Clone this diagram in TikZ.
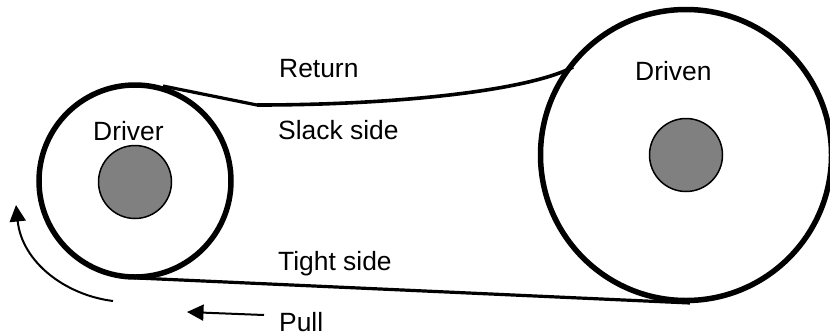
\documentclass[tikz,border=0pt]{standalone}
\usepackage{fontspec}
\setmainfont{Liberation Sans}
\usetikzlibrary{arrows.meta}
\begin{document}
\begin{tikzpicture}[x=1pt,y=-1pt,
  pulley/.style={circle,draw=black,line width=5.5pt,minimum size=#1,inner sep=0pt,outer sep=0pt},
  hub/.style={circle,draw=black,fill=hubgray,line width=1.5pt,minimum size=73pt,inner sep=0pt},
  belt/.style={draw=black,line width=3.2pt},
  lbl/.style={font=\fontsize{26.4pt}{28pt}\selectfont,anchor=base west,inner sep=0pt,text=black},
  motion/.style={draw=black,line width=2pt,-{Triangle[length=16.5pt,width=16pt]}}
]
\definecolor{hubgray}{HTML}{808080}
\useasboundingbox (0,0) rectangle (830,333);
\begin{scope}
\clip (0,0) rectangle (830,333);
\node[pulley=192pt] (driver) at (135,181) {};
\node[pulley=291pt] (driven) at (686,155) {};
\end{scope}
\node[hub] (hubA) at (135,182) {};
\node[hub] (hubB) at (686,155) {};
\coordinate (slackA) at (163,86);
\coordinate (slackB) at (257,105);
\coordinate (slackC) at (573,67);
\coordinate (tightA) at (137,278);
\coordinate (tightB) at (690,303);
\coordinate (arcA) at (113,301);
\coordinate (arcB) at (16,205);
\coordinate (pullA) at (264,315);
\coordinate (pullB) at (187,312);
\draw[belt] (slackA) -- (slackB);
\draw[belt,line width=3.6pt] (slackB) .. controls (400,105) and (530,90) .. (slackC);
\draw[belt] (tightA) -- (tightB);
\draw[motion] (arcA) .. controls (65,295) and (22,262) .. (arcB);
\draw[motion] (pullA) -- (pullB);
\node[lbl] (return) at (279,77.5) {Return};
\node[lbl] (slack) at (278,139.5) {Slack side};
\node[lbl] (tight) at (278,270) {Tight side};
\node[lbl] (pull) at (279,331) {Pull};
\node[lbl] (drivertext) at (93,140) {Driver};
\node[lbl] (driventext) at (635,80) {Driven};
\end{tikzpicture}
\end{document}
